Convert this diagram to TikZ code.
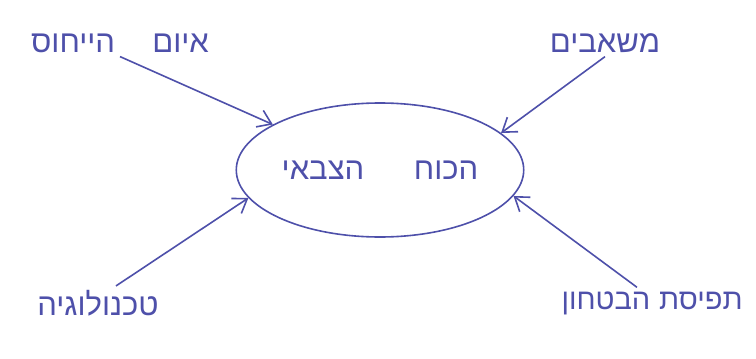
\documentclass[tikz,border=0pt]{standalone}
\usepackage{fontspec}
\newfontfamily\hebfont[Script=Hebrew]{Liberation Sans}
\TeXXeTstate=1
\usetikzlibrary{arrows.meta,shapes.geometric}
\definecolor{ink}{RGB}{78,80,170}

\begin{document}
\begin{tikzpicture}[x=1pt, y=-1pt, ink, line width=1.6pt,
    font=\hebfont\fontsize{31}{34}\selectfont,
    >={Straight Barb[length=13pt,width=18pt]}]
  \useasboundingbox[fill=white] (0,0) rectangle (756,359);
  \node (power) [draw, ellipse, minimum width=286pt, minimum height=134pt] at (380,170)
    {\beginR הכוח\hspace{1.6em}הצבאי\endR};
  \node (threat) at (120,43) {\beginR איום\hspace{1.2em}הייחוס\endR};
  \node (res) at (605,43) {\beginR משאבים\endR};
  \node (tech) at (98,303) {\beginR טכנולוגיה\endR};
  \node (sec) [font=\hebfont\fontsize{29}{32}\selectfont] at (652,303)
    {\beginR תפיסת\hspace{0.3em}הבטחון\endR};
  \path[->]
  (threat.south) edge (power.157)
  (res.south) edge (power.17)
  ([xshift=18pt]tech.north) edge (power.192)
  ([xshift=-15pt]sec.north) edge (power.349)
  ;
\end{tikzpicture}
\end{document}
